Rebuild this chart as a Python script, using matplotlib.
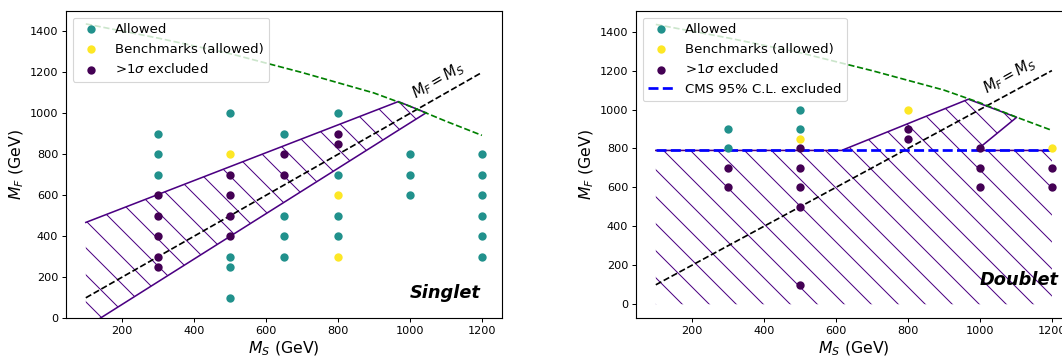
import numpy as np
import matplotlib; matplotlib.use("Agg")
import matplotlib.pyplot as plt
from matplotlib.patches import Polygon

# ---- data ----
ALLOWED_S = [(300, 900), (300, 800), (300, 700),
             (500, 1000), (500, 300), (500, 250), (500, 100),
             (650, 900), (650, 500), (650, 400), (650, 300),
             (800, 1000), (800, 700), (800, 500), (800, 400),
             (1000, 800), (1000, 700), (1000, 600),
             (1200, 800), (1200, 700), (1200, 600), (1200, 500), (1200, 400), (1200, 300)]
BENCH_S = [(500, 800), (800, 600), (800, 300)]
EXCL_S = [(300, 600), (300, 500), (300, 400), (300, 300), (300, 250),
          (500, 700), (500, 600), (500, 500), (500, 400),
          (650, 800), (650, 700), (800, 900), (800, 850)]

ALLOWED_D = [(300, 900), (300, 800), (500, 1000), (500, 900)]
BENCH_D = [(500, 850), (800, 1000), (1200, 800)]
EXCL_D = [(300, 700), (300, 600),
          (500, 800), (500, 700), (500, 600), (500, 500), (500, 100),
          (800, 900), (800, 850), (1000, 800), (1000, 700), (1000, 600),
          (1200, 700), (1200, 600)]

# singlet excluded band
SING_X = [100, 968, 1045]
SING_LO = [-44, 918, 1003]
SING_HI = [468, 1058, 1003]

# doublet excluded region (outline)
DOUB_X = [100, 616, 968, 1102, 990, 1200]
DOUB_Y = [790, 790, 1053, 960, 790, 790]
CMS_Y = 790

# green bound
GRN_X = [100, 300, 500, 700, 900, 1000, 1100, 1200]
GRN_Y = [1437, 1368, 1292, 1200, 1100, 1035, 962, 893]

DIAG = [100, 1200]

C_ALLOW, C_BENCH, C_EXCL = "#21918c", "#fde725", "#440154"
C_BAND = "#4b0082"

plt.rcParams.update({
    "xtick.labelsize": 10, "ytick.labelsize": 10,
    "xtick.major.size": 3.5, "ytick.major.size": 3.5,
    "xtick.major.width": 0.9, "ytick.major.width": 0.9,
    "xtick.major.pad": 3.5, "ytick.major.pad": 3.5,
    "axes.linewidth": 1.0,
    "axes.labelsize": 14, "axes.labelpad": 3,
    "hatch.linewidth": 0.9,
})

DPI = 81   # hatch spacing (dpi/3 px) matches the reference at this dpi
fig = plt.figure(figsize=(1062 / DPI, 356 / DPI), dpi=DPI)
axL = fig.add_axes([66 / 1062, 37.7 / 356, 435.7 / 1062, 307.3 / 356])
axR = fig.add_axes([636 / 1062, 37.7 / 356, 435.7 / 1062, 307.3 / 356])


def pts(ax, data, color, label):
    x, y = zip(*data)
    ax.scatter(x, y, s=55, color=color, label=label, zorder=5, linewidths=0)


# ---- singlet ----
ax = axL
ax.fill_between(SING_X, SING_LO, SING_HI, facecolor="none", edgecolor=C_BAND,
                hatch="\\", linewidth=0)
ax.plot(SING_X, SING_HI, color=C_BAND, lw=1.4)
ax.plot(SING_X, SING_LO, color=C_BAND, lw=1.4)
ax.plot(DIAG, DIAG, "--", color="k", lw=1.5)
ax.plot(GRN_X, GRN_Y, "--", color="green", lw=1.5)
pts(ax, ALLOWED_S, C_ALLOW, "Allowed")
pts(ax, BENCH_S, C_BENCH, "Benchmarks (allowed)")
pts(ax, EXCL_S, C_EXCL, r">1$\sigma$ excluded")
ax.text(1000, 100, "Singlet", fontsize=15.8, fontweight="bold", fontstyle="italic")
ax.text(1022, 1050, r"$M_F = M_S$", fontsize=13, rotation=30,
        rotation_mode="anchor", ha="left", va="bottom")
ax.set_xlim(45, 1255)
ax.set_ylim(0, 1500)
ax.set_xticks(range(200, 1201, 200))
ax.set_xlabel(r"$M_S$ (GeV)")
ax.set_ylabel(r"$M_F$ (GeV)")
ax.legend(loc="upper left", fontsize=11.8)

# ---- doublet ----
ax = axR
poly = [(DOUB_X[0], 0)] + list(zip(DOUB_X, DOUB_Y)) + [(DOUB_X[-1], 0)]
ax.add_patch(Polygon(poly, closed=True, facecolor="none", edgecolor=C_BAND,
                     hatch="\\", linewidth=0))
ax.plot(DOUB_X, DOUB_Y, color=C_BAND, lw=1.4)
ax.plot(DIAG, DIAG, "--", color="k", lw=1.5)
ax.plot(GRN_X, GRN_Y, "--", color="green", lw=1.5)
pts(ax, ALLOWED_D, C_ALLOW, "Allowed")
pts(ax, BENCH_D, C_BENCH, "Benchmarks (allowed)")
pts(ax, EXCL_D, C_EXCL, r">1$\sigma$ excluded")
ax.plot([100, 1200], [CMS_Y, CMS_Y], "--", color="blue", lw=2.4,
        label="CMS 95% C.L. excluded", zorder=4)
ax.text(1000, 100, "Doublet", fontsize=15.8, fontweight="bold", fontstyle="italic")
ax.text(1026, 1058, r"$M_F = M_S$", fontsize=13, rotation=29,
        rotation_mode="anchor", ha="left", va="bottom")
ax.set_xlim(45, 1255)
ax.set_ylim(-72, 1506)
ax.set_xticks(range(200, 1201, 200))
ax.set_xlabel(r"$M_S$ (GeV)")
ax.set_ylabel(r"$M_F$ (GeV)")
ax.legend(loc="upper left", fontsize=11.8)

fig.savefig("out.png", dpi=DPI)
